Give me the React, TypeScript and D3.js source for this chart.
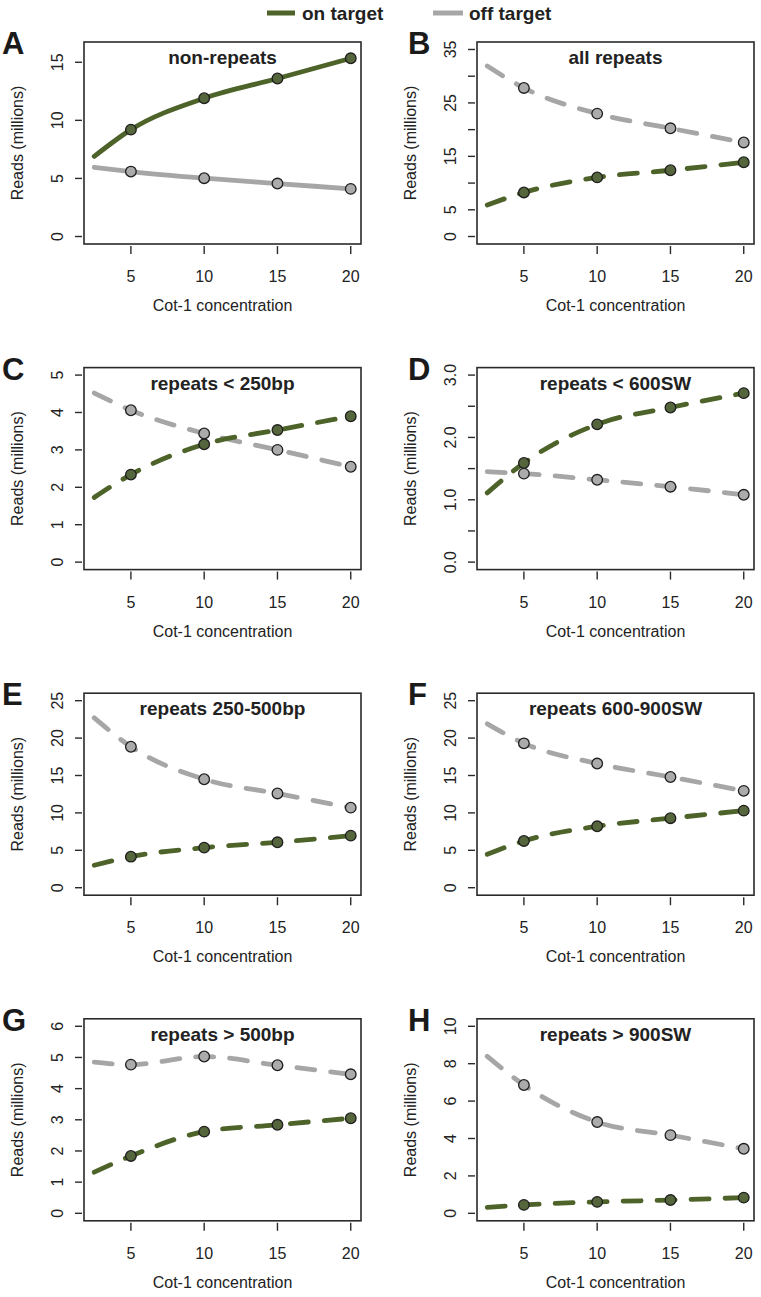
import * as d3 from "d3";

// Cot-1 concentrations; the first one is only on the line, without a marker
const cot = [2.5, 5, 10, 15, 20];
const xTicks = [5, 10, 15, 20];

// reads (millions), per panel, on / off target
const nonRepeatsOn = [6.9, 9.2, 11.9, 13.6, 15.34];
const nonRepeatsOff = [5.96, 5.59, 5.02, 4.56, 4.1];
const allRepeatsOn = [5.9, 8.25, 11.06, 12.4, 13.9];
const allRepeatsOff = [31.9, 27.8, 23.0, 20.25, 17.6];
const rep250On = [1.73, 2.34, 3.15, 3.53, 3.9];
const rep250Off = [4.52, 4.06, 3.44, 3.0, 2.55];
const rep600swOn = [1.11, 1.59, 2.21, 2.48, 2.71];
const rep600swOff = [1.45, 1.42, 1.32, 1.21, 1.08];
const rep250to500On = [3.0, 4.15, 5.36, 6.07, 6.96];
const rep250to500Off = [22.7, 18.84, 14.5, 12.6, 10.7];
const rep600to900On = [4.46, 6.25, 8.21, 9.29, 10.3];
const rep600to900Off = [21.9, 19.3, 16.6, 14.8, 12.95];
const rep500On = [1.32, 1.84, 2.62, 2.84, 3.05];
const rep500Off = [4.85, 4.77, 5.03, 4.75, 4.46];
const rep900swOn = [0.32, 0.45, 0.61, 0.71, 0.84];
const rep900swOff = [8.39, 6.86, 4.88, 4.18, 3.45];

const letters = ["A", "B", "C", "D", "E", "F", "G", "H"];
const titles = [
  "non-repeats",
  "all repeats",
  "repeats < 250bp",
  "repeats < 600SW",
  "repeats 250-500bp",
  "repeats 600-900SW",
  "repeats > 500bp",
  "repeats > 900SW",
];
const yMaxes = [16.1, 35, 5, 3, 25, 25, 6, 10];
const yTicks = [
  [0, 5, 10, 15],
  [0, 5, 10, 15, 20, 25, 30, 35],
  [0, 1, 2, 3, 4, 5],
  [0, 0.5, 1, 1.5, 2, 2.5, 3],
  [0, 5, 10, 15, 20, 25],
  [0, 5, 10, 15, 20, 25],
  [0, 1, 2, 3, 4, 5, 6],
  [0, 2, 4, 6, 8, 10],
];
const yLabels = [
  ["0", "5", "10", "15"],
  ["0", "5", "", "15", "", "25", "", "35"],
  ["0", "1", "2", "3", "4", "5"],
  ["0.0", "", "1.0", "", "2.0", "", "3.0"],
  ["0", "5", "10", "15", "20", "25"],
  ["0", "5", "10", "15", "20", "25"],
  ["0", "1", "2", "3", "4", "5", "6"],
  ["0", "2", "4", "6", "8", "10"],
];
const onSeries = [nonRepeatsOn, allRepeatsOn, rep250On, rep600swOn, rep250to500On, rep600to900On, rep500On, rep900swOn];
const offSeries = [nonRepeatsOff, allRepeatsOff, rep250Off, rep600swOff, rep250to500Off, rep600to900Off, rep500Off, rep900swOff];

const GREEN = "#4e6329";
const GREEN_PT = "#55653c";
const GREY = "#a6a6a6";
const GREY_PT = "#ababab";
const FONT = "'Liberation Sans', Arial, Helvetica, sans-serif";

const W = 761;
const H = 1297;
const colLeft = [84, 477];
const boxW = 277;
const rowTop0 = 42;
const rowStep = 325.6;
const boxH = 202;

function Panel({ i }: { i: number }) {
  const col = i % 2;
  const row = Math.floor(i / 2);
  const left = colLeft[col];
  const top = rowTop0 + row * rowStep;
  const bottom = top + boxH;
  const right = left + boxW;
  const yMax = yMaxes[i];

  // R style 4% padding on both axes
  const x = d3.scaleLinear().domain([2.5 - 0.7, 20 + 0.7]).range([left, right]);
  const y = d3.scaleLinear().domain([-0.04 * yMax, yMax * 1.04]).range([bottom, top]);

  const line = d3
    .line<number>()
    .x((_, k) => x(cot[k]))
    .y((d) => y(d))
    .curve(d3.curveMonotoneX);

  const dashed = i > 0;
  const series = [
    { vals: offSeries[i], color: GREY, pt: GREY_PT },
    { vals: onSeries[i], color: GREEN, pt: GREEN_PT },
  ];

  return (
    <g>
      <text x={col === 0 ? 2 : 408} y={top + 12} fontSize={31} fontWeight="bold" fill="#1a1a1a">
        {letters[i]}
      </text>
      {series.map((s, k) => (
        <path
          key={"l" + k}
          d={line(s.vals) || ""}
          fill="none"
          stroke={s.color}
          strokeWidth={4.8}
          strokeLinecap="round"
          strokeDasharray={dashed ? "18,16" : undefined}
        />
      ))}
      {series.map((s, k) =>
        s.vals.slice(1).map((v, j) => (
          <circle
            key={"p" + k + "-" + j}
            cx={x(cot[j + 1])}
            cy={y(v)}
            r={5.3}
            fill={s.pt}
            stroke="#1e1e1e"
            strokeWidth={1.3}
          />
        ))
      )}
      <rect x={left} y={top} width={boxW} height={boxH} fill="none" stroke="#2a2a2a" strokeWidth={1.6} />
      <text x={(left + right) / 2} y={top + 22} textAnchor="middle" fontSize={19} fontWeight="bold" fill="#222">
        {titles[i]}
      </text>
      {/* x axis */}
      {xTicks.map((t) => (
        <g key={"x" + t}>
          <line x1={x(t)} x2={x(t)} y1={bottom + 2} y2={bottom + 10} stroke="#2a2a2a" strokeWidth={1.4} />
          <text x={x(t)} y={bottom + 38} textAnchor="middle" fontSize={16} fill="#222">
            {t}
          </text>
        </g>
      ))}
      <text x={(left + right) / 2} y={bottom + 67} textAnchor="middle" fontSize={16} fill="#222">
        Cot-1 concentration
      </text>
      {/* y axis */}
      {yTicks[i].map((t, k) => (
        <g key={"y" + t}>
          <line x1={left - 9} x2={left - 2} y1={y(t)} y2={y(t)} stroke="#2a2a2a" strokeWidth={1.4} />
          {yLabels[i][k] ? (
            <text
              transform={`translate(${left - 21},${y(t)}) rotate(-90)`}
              textAnchor="middle"
              fontSize={16}
              fill="#222"
            >
              {yLabels[i][k]}
            </text>
          ) : null}
        </g>
      ))}
      <text
        transform={`translate(${left - 61},${(top + bottom) / 2}) rotate(-90)`}
        textAnchor="middle"
        fontSize={16}
        fill="#222"
      >
        Reads (millions)
      </text>
    </g>
  );
}

export default function App() {
  return (
    <svg
      width={W}
      height={H}
      style={{ position: "absolute", left: 0, top: 0, background: "#fff", fontFamily: FONT }}
    >
      {/* legend */}
      <line x1={267} x2={295} y1={13} y2={13} stroke={GREEN} strokeWidth={5} />
      <text x={302} y={20} fontSize={19} fontWeight="bold" fill="#222">
        on target
      </text>
      <line x1={433} x2={463} y1={13} y2={13} stroke={GREY} strokeWidth={5} />
      <text x={469} y={20} fontSize={19} fontWeight="bold" fill="#222">
        off target
      </text>
      {letters.map((_, i) => (
        <Panel key={i} i={i} />
      ))}
    </svg>
  );
}
